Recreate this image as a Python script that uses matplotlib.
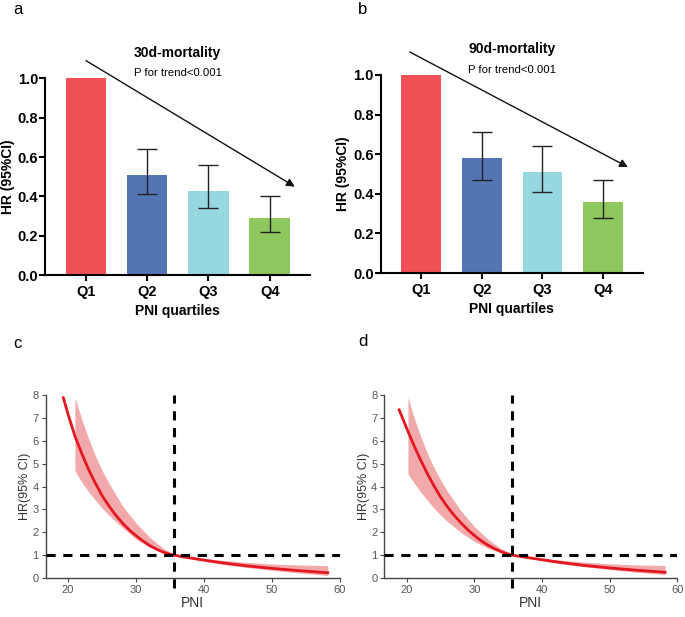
import numpy as np
import matplotlib
matplotlib.use("Agg")
import matplotlib.pyplot as plt

plt.rcParams['font.family'] = ['Liberation Sans', 'DejaVu Sans']

# bar panels: hazard ratios by PNI quartile
quartiles = ['Q1', 'Q2', 'Q3', 'Q4']
bar_colors = ['#EF5157', '#5475B4', '#96D7E0', '#8DC75E']

hr30 = [1.0, 0.51, 0.43, 0.29]
lo30 = [1.0, 0.41, 0.34, 0.22]
hi30 = [1.0, 0.64, 0.56, 0.40]

hr90 = [1.0, 0.58, 0.51, 0.36]
lo90 = [1.0, 0.47, 0.41, 0.28]
hi90 = [1.0, 0.71, 0.64, 0.47]

# spline panels: HR vs PNI
pni_c = [19.3, 20, 21, 22, 23, 24, 25, 26, 27, 28, 29, 30, 31, 32, 33, 34, 35, 35.6,
         37, 40, 43, 46, 50, 54, 58.2]
hr_c = [7.88, 7.15, 6.2, 5.45, 4.75, 4.15, 3.6, 3.15, 2.75, 2.4, 2.1, 1.85, 1.62, 1.42,
        1.26, 1.13, 1.04, 1.0, 0.92, 0.78, 0.65, 0.54, 0.42, 0.32, 0.23]
ci_x_c = [21.0, 22, 23, 24, 25, 26, 28, 30, 32, 34, 35.6, 38, 42, 46, 50, 54, 58.2]
ci_hi_c = [7.88, 6.95, 6.1, 5.35, 4.7, 4.15, 3.15, 2.4, 1.78, 1.3, 1.03, 0.93, 0.79,
           0.69, 0.61, 0.57, 0.54]
ci_lo_c = [4.68, 4.2, 3.78, 3.4, 3.05, 2.75, 2.2, 1.7, 1.35, 1.12, 0.98, 0.85, 0.63,
           0.47, 0.34, 0.22, 0.11]

pni_d = [18.9, 20, 21, 22, 23, 24, 25, 26, 27, 28, 29, 30, 31, 32, 33, 34, 35, 35.6,
         37, 40, 43, 46, 50, 54, 58.2]
hr_d = [7.35, 6.55, 5.85, 5.2, 4.6, 4.05, 3.55, 3.12, 2.75, 2.42, 2.12, 1.86, 1.63, 1.44,
        1.28, 1.15, 1.05, 1.0, 0.93, 0.8, 0.67, 0.56, 0.44, 0.34, 0.25]
ci_x_d = [20.2, 21, 22, 23, 24, 25, 26, 28, 30, 32, 34, 35.6, 38, 42, 46, 50, 54, 58.2]
ci_hi_d = [7.9, 7.1, 6.25, 5.5, 4.85, 4.3, 3.8, 2.95, 2.25, 1.7, 1.28, 1.03, 0.94, 0.8,
           0.7, 0.62, 0.57, 0.55]
ci_lo_d = [4.55, 4.2, 3.8, 3.42, 3.07, 2.76, 2.48, 2.0, 1.6, 1.3, 1.1, 0.98, 0.86, 0.65,
           0.5, 0.37, 0.25, 0.15]

cutoff = 35.6

fig = plt.figure(figsize=(6.85, 6.17), dpi=100)


def bar_panel(rect, hr, lo, hi, title, arrow_start, arrow_end):
    ax = fig.add_axes(rect)
    x = np.arange(len(quartiles))
    ax.bar(x, hr, width=0.66, color=bar_colors, zorder=1)
    err = [np.array(hr) - np.array(lo), np.array(hi) - np.array(hr)]
    ax.errorbar(x[1:], hr[1:], yerr=[err[0][1:], err[1][1:]], fmt='none',
                ecolor='#222222', elinewidth=1, capsize=7, capthick=1, zorder=2)
    ax.set_xlim(-0.67, 3.66)
    ax.set_ylim(0, 1.0)
    ax.set_yticks([0, 0.2, 0.4, 0.6, 0.8, 1.0])
    ax.set_yticklabels(['0.0', '0.2', '0.4', '0.6', '0.8', '1.0'])
    ax.set_xticks(x)
    ax.set_xticklabels(quartiles)
    for s in ['top', 'right']:
        ax.spines[s].set_visible(False)
    for s in ['left', 'bottom']:
        ax.spines[s].set_linewidth(1.5)
    ax.tick_params(width=1.5, length=4, labelsize=10.5)
    ax.tick_params(axis='y', pad=1)
    ax.tick_params(axis='x', pad=3)
    for lab in ax.get_xticklabels() + ax.get_yticklabels():
        lab.set_fontweight('bold')
    ax.set_ylabel('HR (95%CI)', fontsize=10, fontweight='bold', labelpad=2)
    ax.set_xlabel('PNI quartiles', fontsize=10, fontweight='bold', labelpad=4)
    ax.text(0.5, 1.13, title, transform=ax.transAxes, ha='center', va='center',
            fontsize=10, fontweight='bold')
    ax.text(0.5, 1.025, 'P for trend<0.001', transform=ax.transAxes, ha='center',
            va='center', fontsize=8.2)
    ax.annotate('', xy=arrow_end, xytext=arrow_start, annotation_clip=False,
                arrowprops=dict(arrowstyle='-|>', lw=1, color='#111111',
                                mutation_scale=12, shrinkA=0, shrinkB=0))
    return ax


def spline_panel(rect, px, phr, cx, chi, clo):
    ax = fig.add_axes(rect)
    ax.fill_between(cx, clo, chi, color='#F2A9AB', lw=0, zorder=1)
    ax.plot(px, phr, color='#E3171F', lw=2, zorder=2)
    ax.axhline(1, color='black', lw=2.2, dashes=(3, 2.5), zorder=3)
    # the cut-off line runs a little below the x axis
    ax.plot([cutoff, cutoff], [-0.45, 8], color='black', lw=2.2, dashes=(3, 2.5),
            zorder=3, clip_on=False)
    ax.set_xlim(16.7, 60)
    ax.set_ylim(0, 8)
    ax.set_xticks([20, 30, 40, 50, 60])
    ax.set_yticks(range(9))
    for s in ['top', 'right']:
        ax.spines[s].set_visible(False)
    for s in ['left', 'bottom']:
        ax.spines[s].set_color('#444444')
        ax.spines[s].set_linewidth(1)
    ax.tick_params(colors='#444444', labelcolor='#555555', labelsize=8, length=3,
                   pad=2)
    ax.set_xlabel('PNI', fontsize=10, color='#333333', labelpad=1)
    ax.set_ylabel('HR(95% CI)', fontsize=9, color='#333333', labelpad=1)
    return ax


bar_panel([0.0657, 0.554, 0.387, 0.319], hr30, lo30, hi30, '30d-mortality',
          (0.0, 1.09), (3.41, 0.45))
bar_panel([0.5558, 0.5575, 0.383, 0.321], hr90, lo90, hi90, '90d-mortality',
          (-0.19, 1.116), (3.41, 0.535))
spline_panel([0.0667, 0.0632, 0.4296, 0.2966], pni_c, hr_c, ci_x_c, ci_hi_c, ci_lo_c)
spline_panel([0.561, 0.0632, 0.4277, 0.2966], pni_d, hr_d, ci_x_d, ci_hi_d, ci_lo_d)

# panel letters
for letter, (px_, py_) in zip('abcd', [(18, 10), (363, 10), (17, 343), (363, 342)]):
    fig.text(px_ / 685, 1 - py_ / 617, letter, fontsize=12, ha='center', va='center')

fig.savefig('out.png', dpi=100)
